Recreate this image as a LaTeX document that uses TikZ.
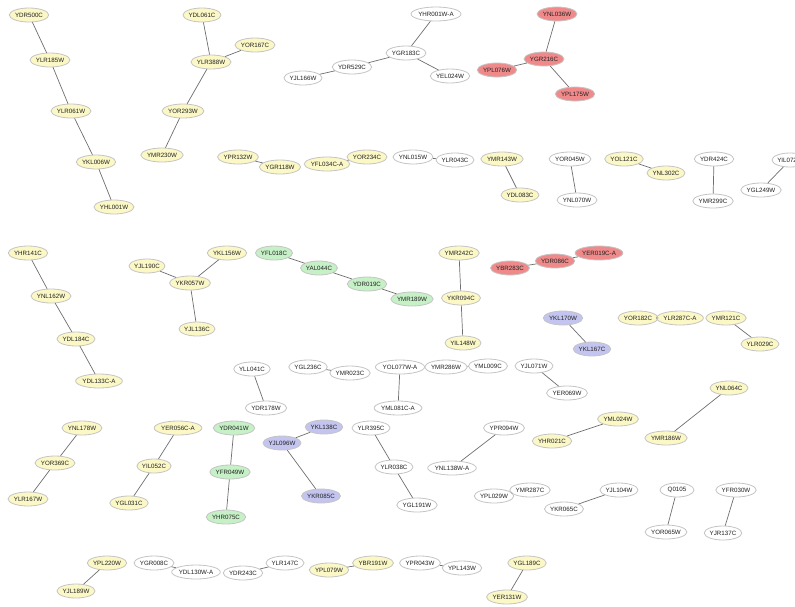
\documentclass[tikz,border=0pt]{standalone}
\usepackage{fontspec}
\setmainfont{Liberation Sans}
\usetikzlibrary{shapes.geometric}
\definecolor{gborder}{HTML}{C4C4C4}
\definecolor{gedge}{HTML}{6E6E6E}
\definecolor{fyellow}{HTML}{FBF8C6}
\definecolor{fred}{HTML}{F08A8A}
\definecolor{fgreen}{HTML}{C6F0C6}
\definecolor{fblue}{HTML}{C4C4F0}
\definecolor{gtext}{HTML}{202020}
\tikzset{
  gene/.style={ellipse, draw=gborder, line width=0.8pt, fill=white,
    minimum width=34pt, minimum height=14pt, inner sep=0pt,
    font=\fontsize{6.2}{7}\selectfont, text=gtext},
  gy/.style={gene, fill=fyellow},
  gr/.style={gene, fill=fred},
  gg/.style={gene, fill=fgreen},
  gb/.style={gene, fill=fblue},
  gw/.style={gene},
  link/.style={draw=gedge, line width=0.7pt}
}
\begin{document}
\begin{tikzpicture}[x=1pt, y=-1pt]
\useasboundingbox (0,0) rectangle (795,606);
% ---- top row ----
\node[gy] (YDR500C) at (29,15) {YDR500C};
\node[gy] (YLR185W) at (50,60) {YLR185W};
\node[gy] (YLR061W) at (71,111) {YLR061W};
\node[gy] (YKL006W) at (96,162) {YKL006W};
\node[gy] (YHL001W) at (114,207) {YHL001W};
\node[gy] (YDL061C) at (202,15) {YDL061C};
\node[gy] (YOR167C) at (255,45) {YOR167C};
\node[gy] (YLR388W) at (211,62) {YLR388W};
\node[gy] (YOR293W) at (183,111) {YOR293W};
\node[gy] (YMR230W) at (162,155) {YMR230W};
\node[gy] (YPR132W) at (238,157) {YPR132W};
\node[gy] (YGR118W) at (280,167) {YGR118W};
\node[gw] (YHR001WA) at (436,14) {YHR001W-A};
\node[gw] (YGR183C) at (406,53) {YGR183C};
\node[gw] (YDR529C) at (352,67) {YDR529C};
\node[gw] (YJL166W) at (303,78) {YJL166W};
\node[gw] (YEL024W) at (450,76) {YEL024W};
\node[gr] (YNL036W) at (557,14) {YNL036W};
\node[gr] (YGR216C) at (544,59) {YGR216C};
\node[gr] (YPL076W) at (497,70) {YPL076W};
\node[gr] (YPL175W) at (575,94) {YPL175W};
\node[gy] (YFL034CA) at (327,164) {YFL034C-A};
\node[gy] (YOR234C) at (367,157) {YOR234C};
\node[gw] (YNL015W) at (413,157) {YNL015W};
\node[gw] (YLR043C) at (455,160) {YLR043C};
\node[gy] (YMR143W) at (502,159) {YMR143W};
\node[gy] (YDL083C) at (520,195) {YDL083C};
\node[gw] (YOR045W) at (570,159) {YOR045W};
\node[gw] (YNL070W) at (577,200) {YNL070W};
\node[gy] (YOL121C) at (624,159) {YOL121C};
\node[gy] (YNL302C) at (666,173) {YNL302C};
\node[gw] (YDR424C) at (714,159) {YDR424C};
\node[gw] (YMR299C) at (713,201) {YMR299C};
\node[gw] (YIL072W) at (790,160) {YIL072W};
\node[gw] (YGL249W) at (761,190) {YGL249W};
% ---- middle rows ----
\node[gy] (YHR141C) at (28,253) {YHR141C};
\node[gy] (YNL162W) at (51,296) {YNL162W};
\node[gy] (YDL184C) at (76,339) {YDL184C};
\node[gy] (YDL133CA) at (99,381) {YDL133C-A};
\node[gy] (YJL190C) at (147,266) {YJL190C};
\node[gy] (YKL156W) at (227,253) {YKL156W};
\node[gy] (YKR057W) at (190,283) {YKR057W};
\node[gy] (YJL136C) at (197,329) {YJL136C};
\node[gg] (YFL018C) at (274,253) {YFL018C};
\node[gg] (YAL044C) at (319,268) {YAL044C};
\node[gg] (YDR019C) at (367,284) {YDR019C};
\node[gg] (YMR189W) at (412,299) {YMR189W};
\node[gy] (YMR242C) at (459,253) {YMR242C};
\node[gy] (YKR094C) at (461,298) {YKR094C};
\node[gy] (YIL148W) at (463,343) {YIL148W};
\node[gr] (YBR283C) at (510,268) {YBR283C};
\node[gr] (YDR086C) at (555,261) {YDR086C};
\node[gr] (YER019CA) at (599,253) {YER019C-A};
\node[gb] (YKL170W) at (563,318) {YKL170W};
\node[gb] (YKL167C) at (592,349) {YKL167C};
\node[gy] (YOR182C) at (638,318) {YOR182C};
\node[gy] (YLR287CA) at (680,318) {YLR287C-A};
\node[gy] (YMR121C) at (726,318) {YMR121C};
\node[gy] (YLR029C) at (760,344) {YLR029C};
\node[gw] (YLL041C) at (252,369) {YLL041C};
\node[gw] (YDR178W) at (266,408) {YDR178W};
\node[gw] (YGL236C) at (308,367) {YGL236C};
\node[gw] (YMR023C) at (350,373) {YMR023C};
\node[gw] (YOL077WA) at (400,367) {YOL077W-A};
\node[gw] (YML081CA) at (398,408) {YML081C-A};
\node[gw] (YMR286W) at (446,367) {YMR286W};
\node[gw] (YML009C) at (488,366) {YML009C};
\node[gw] (YJL071W) at (534,366) {YJL071W};
\node[gw] (YER069W) at (567,393) {YER069W};
\node[gy] (YNL064C) at (729,388) {YNL064C};
\node[gy] (YMR186W) at (666,438) {YMR186W};
\node[gy] (YML024W) at (618,419) {YML024W};
\node[gy] (YHR021C) at (552,441) {YHR021C};
% ---- lower rows ----
\node[gy] (YNL178W) at (82,428) {YNL178W};
\node[gy] (YOR369C) at (55,463) {YOR369C};
\node[gy] (YLR167W) at (28,499) {YLR167W};
\node[gy] (YER056CA) at (178,428) {YER056C-A};
\node[gy] (YIL052C) at (154,466) {YIL052C};
\node[gy] (YGL031C) at (129,503) {YGL031C};
\node[gg] (YDR041W) at (234,428) {YDR041W};
\node[gg] (YFR049W) at (230,472) {YFR049W};
\node[gg] (YHR075C) at (226,517) {YHR075C};
\node[gb] (YKL138C) at (324,427) {YKL138C};
\node[gb] (YJL096W) at (282,443) {YJL096W};
\node[gb] (YKR085C) at (321,496) {YKR085C};
\node[gw] (YLR395C) at (371,428) {YLR395C};
\node[gw] (YLR038C) at (394,467) {YLR038C};
\node[gw] (YGL191W) at (417,505) {YGL191W};
\node[gw] (YPR094W) at (504,428) {YPR094W};
\node[gw] (YNL138WA) at (452,468) {YNL138W-A};
\node[gw] (YPL029W) at (494,496) {YPL029W};
\node[gw] (YMR287C) at (530,490) {YMR287C};
\node[gw] (YKR065C) at (564,509) {YKR065C};
\node[gw] (YJL104W) at (619,490) {YJL104W};
\node[gw] (Q0105) at (677,490) {Q0105};
\node[gw] (YOR065W) at (666,532) {YOR065W};
\node[gw] (YFR030W) at (736,490) {YFR030W};
\node[gw] (YJR137C) at (723,533) {YJR137C};
% ---- bottom row ----
\node[gy] (YPL220W) at (107,563) {YPL220W};
\node[gy] (YJL189W) at (76,591) {YJL189W};
\node[gw] (YGR008C) at (154,563) {YGR008C};
\node[gw] (YDL130WA) at (196,572) {YDL130W-A};
\node[gw] (YDR243C) at (243,573) {YDR243C};
\node[gw] (YLR147C) at (285,563) {YLR147C};
\node[gy] (YPL079W) at (329,570) {YPL079W};
\node[gy] (YBR191W) at (373,563) {YBR191W};
\node[gw] (YPR043W) at (420,563) {YPR043W};
\node[gw] (YPL143W) at (462,568) {YPL143W};
\node[gy] (YGL189C) at (527,563) {YGL189C};
\node[gy] (YER131W) at (507,597) {YER131W};
% ---- interactions ----
\path[link]
  (YDR500C) -- (YLR185W)  (YLR185W) -- (YLR061W)
  (YLR061W) -- (YKL006W)  (YKL006W) -- (YHL001W)
  (YDL061C) -- (YLR388W)  (YOR167C) -- (YLR388W)
  (YLR388W) -- (YOR293W)  (YOR293W) -- (YMR230W)
  (YPR132W) -- (YGR118W)
  (YHR001WA) -- (YGR183C) (YGR183C) -- (YDR529C)
  (YDR529C) -- (YJL166W)  (YGR183C) -- (YEL024W)
  (YNL036W) -- (YGR216C)  (YPL076W) -- (YGR216C)
  (YGR216C) -- (YPL175W)
  (YFL034CA) -- (YOR234C)
  (YNL015W) -- (YLR043C)
  (YMR143W) -- (YDL083C)
  (YOR045W) -- (YNL070W)
  (YOL121C) -- (YNL302C)
  (YDR424C) -- (YMR299C)
  (YIL072W) -- (YGL249W)
  (YHR141C) -- (YNL162W)  (YNL162W) -- (YDL184C)
  (YDL184C) -- (YDL133CA)
  (YJL190C) -- (YKR057W)  (YKL156W) -- (YKR057W)
  (YKR057W) -- (YJL136C)
  (YFL018C) -- (YAL044C)  (YAL044C) -- (YDR019C)
  (YDR019C) -- (YMR189W)
  (YMR242C) -- (YKR094C)  (YKR094C) -- (YIL148W)
  (YBR283C) -- (YDR086C)  (YDR086C) -- (YER019CA)
  (YKL170W) -- (YKL167C)
  (YOR182C) -- (YLR287CA)
  (YMR121C) -- (YLR029C)
  (YLL041C) -- (YDR178W)
  (YGL236C) -- (YMR023C)
  (YOL077WA) -- (YML081CA)
  (YMR286W) -- (YML009C)
  (YJL071W) -- (YER069W)
  (YNL064C) -- (YMR186W)
  (YML024W) -- (YHR021C)
  (YNL178W) -- (YOR369C)  (YOR369C) -- (YLR167W)
  (YER056CA) -- (YIL052C) (YIL052C) -- (YGL031C)
  (YDR041W) -- (YFR049W)  (YFR049W) -- (YHR075C)
  (YKL138C) -- (YJL096W)  (YJL096W) -- (YKR085C)
  (YLR395C) -- (YLR038C)  (YLR038C) -- (YGL191W)
  (YPR094W) -- (YNL138WA)
  (YPL029W) -- (YMR287C)
  (YJL104W) -- (YKR065C)
  (Q0105) -- (YOR065W)
  (YFR030W) -- (YJR137C)
  (YPL220W) -- (YJL189W)
  (YGR008C) -- (YDL130WA)
  (YDR243C) -- (YLR147C)
  (YPL079W) -- (YBR191W)
  (YPR043W) -- (YPL143W)
  (YGL189C) -- (YER131W);
\end{tikzpicture}
\end{document}
